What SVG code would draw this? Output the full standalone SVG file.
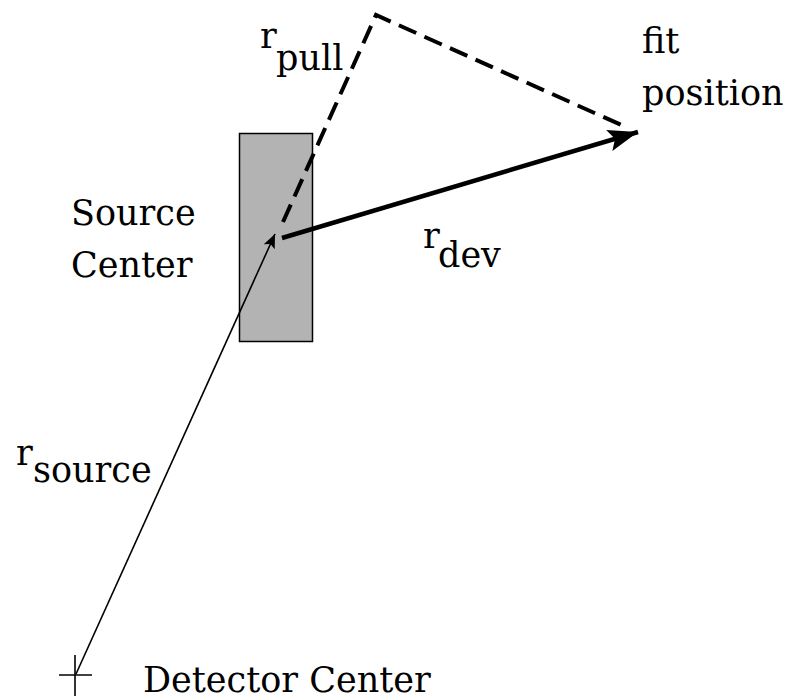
<svg xmlns="http://www.w3.org/2000/svg" width="789" height="700" viewBox="0 0 789 700">
<style>
text{font-family:'DejaVu Serif','Liberation Serif',serif;font-size:35px;fill:#000}
.thin{stroke:#000;stroke-width:1.6;fill:none}
.thick{stroke:#000;stroke-width:4.5;fill:none}
.dash{stroke:#000;stroke-width:4;fill:none;stroke-dasharray:19 9}
</style>
<defs>
<marker id="ahThin" markerUnits="userSpaceOnUse" markerWidth="16" markerHeight="14" refX="14" refY="6" orient="auto" viewBox="0 0 16 12">
<path d="M0,0 L14,6 L0,12 L3,6 Z" fill="#000"/>
</marker>
<marker id="ahThick" markerUnits="userSpaceOnUse" markerWidth="32" markerHeight="24" refX="30" refY="11" orient="auto" viewBox="0 0 32 22">
<path d="M0,0 L30,11 L0,22 L6,11 Z" fill="#000"/>
</marker>
</defs>
<g id="source-box">
<rect x="239.5" y="133.5" width="73" height="208" fill="#b3b3b3" stroke="#000" stroke-width="1.5"/>
</g>
<g id="connectors">
<line class="thin" x1="76" y1="674" x2="275" y2="234" marker-end="url(#ahThin)"/>
<line class="thick" x1="282" y1="238" x2="638" y2="132" marker-end="url(#ahThick)"/>
<polyline class="dash" points="283,222 376,15 628,128"/>
</g>
<g id="detector-center">
<line class="thin" x1="59" y1="675" x2="92" y2="675"/>
<line class="thin" x1="75" y1="655" x2="75" y2="696"/>
<text x="143" y="692">Detector Center</text>
</g>
<g id="source-center-label">
<text x="71" y="225">Source</text>
<text x="71" y="277">Center</text>
</g>
<g id="fit-position">
<text x="642" y="53">fit</text>
<text x="642" y="105">position</text>
</g>
<g id="labels">
<text x="260" y="48">r</text><text x="276" y="70">pull</text>
<text x="423" y="248">r</text><text x="438" y="267">dev</text>
<text x="16" y="465">r</text><text x="33" y="482">source</text>
</g>
</svg>
